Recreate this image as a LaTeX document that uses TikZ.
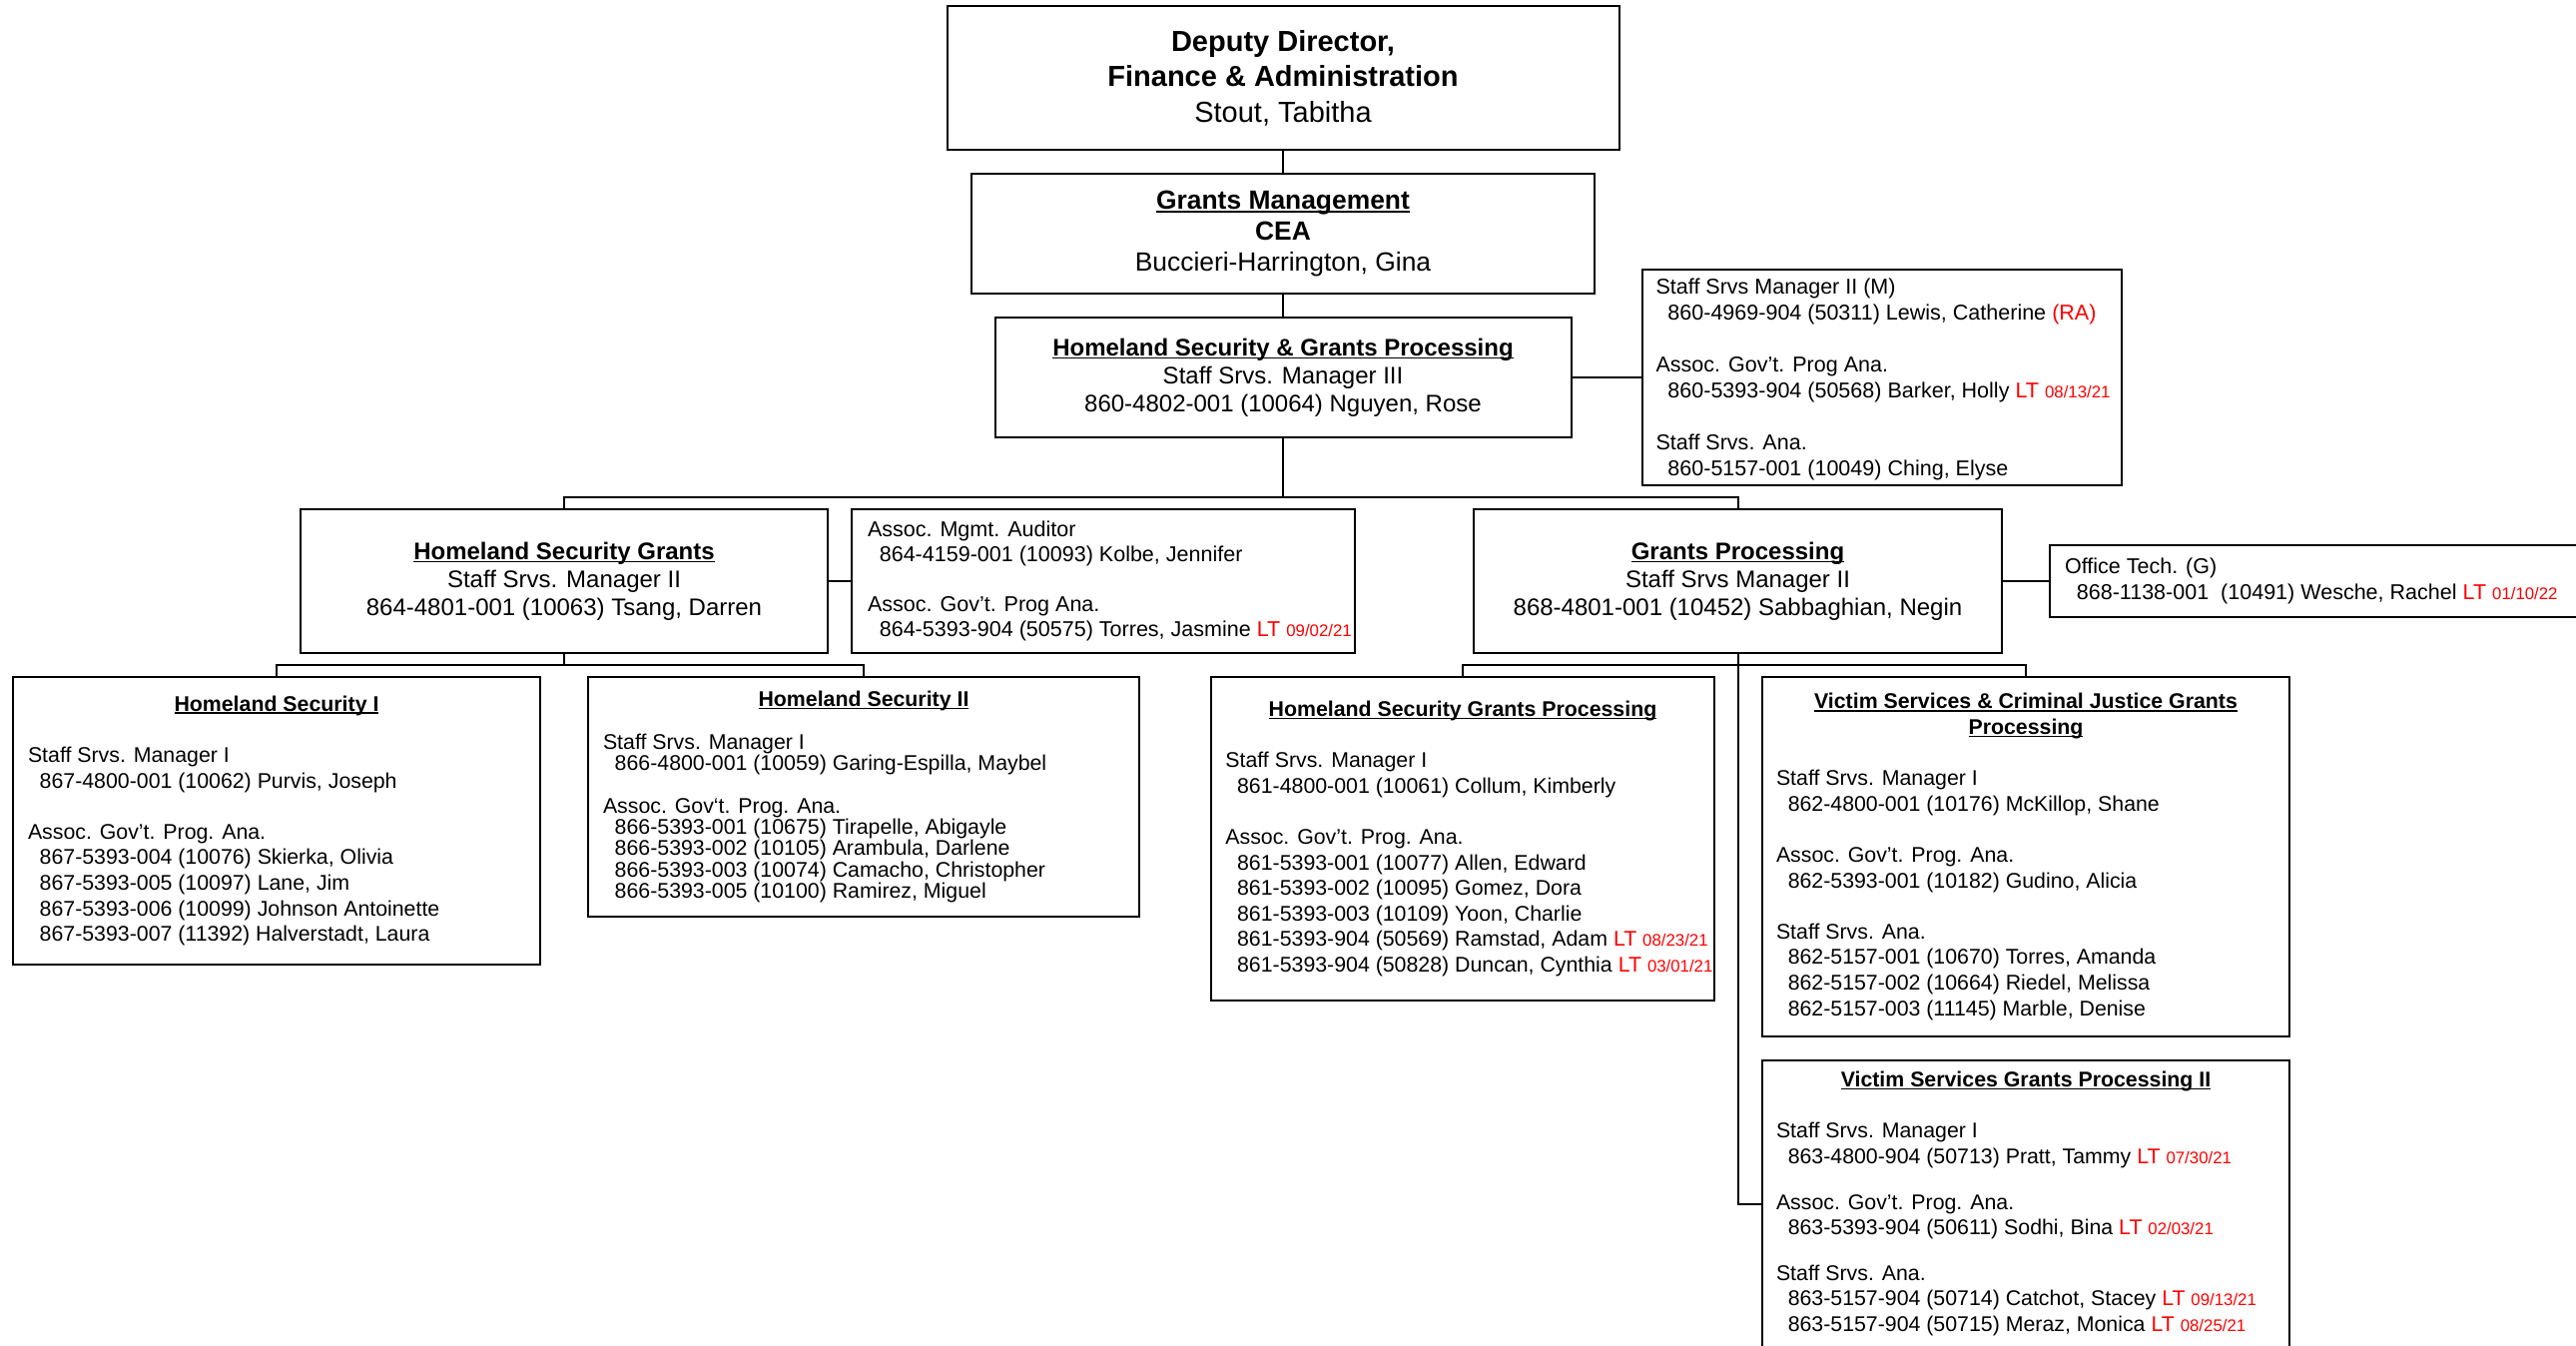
\documentclass[tikz,border=0pt]{standalone}
\usepackage{fontspec}
\setmainfont{Liberation Sans}
\newsavebox\ulbx
\newcommand\ulhd[1]{\sbox\ulbx{#1}\rlap{\rule[-0.13em]{\wd\ulbx}{0.075em}}\usebox\ulbx}
\newcommand\ltd[1]{\textcolor{red}{LT {\fontsize{4.2pt}{4.5pt}\selectfont #1}}}
\newcommand\rdx[1]{\textcolor{red}{#1}}
\newcommand\idt{\hspace*{0.55em}}
\newcommand\hdc[2]{\makebox[#1]{\ulhd{\textbf{#2}}}}
\tikzset{
  box/.style={draw=black, line width=0.5pt, inner sep=0pt, outer sep=0pt},
  ln/.style={line width=0.5pt},
  txt/.style={inner sep=0pt, outer sep=0pt, align=left, anchor=west},
  fs/.style={font=\fontsize{5.33pt}{6.4pt}\selectfont},
  fm/.style={font=\fontsize{6pt}{7pt}\selectfont},
}
\begin{document}
\begin{tikzpicture}[x=0.25pt,y=-0.25pt]
\useasboundingbox (0,0) rectangle (2580,1348);
\fill[white] (0,0) rectangle (2580,1348);

% top levels
\node[box, align=center, minimum width=168.25pt, minimum height=36pt,
      font=\fontsize{7.25pt}{8.9pt}\selectfont] (dd) at (1285,78)
  {\textbf{Deputy Director,}\\\textbf{Finance \& Administration}\\Stout, Tabitha};
\node[box, align=center, minimum width=156pt, minimum height=30pt,
      font=\fontsize{6.6pt}{7.75pt}\selectfont] (gm) at (1285,234)
  {\ulhd{\textbf{Grants Management}}\\\textbf{CEA}\\Buccieri-Harrington, Gina};
\node[box, align=center, minimum width=144.25pt, minimum height=30pt, fm] (hsgp) at (1285,378)
  {\ulhd{\textbf{Homeland Security \& Grants Processing}}\\Staff Srvs. Manager III\\860-4802-001 (10064) Nguyen, Rose};

% staff box
\node[box, minimum width=120pt, minimum height=54pt] (sa) at (1885,378) {};
\node[txt, font=\fontsize{5.38pt}{6.5pt}\selectfont] (sat) at ([xshift=3.4pt,yshift=-0.6pt]sa.west)
  {Staff Srvs Manager II (M)\\\idt 860-4969-904 (50311) Lewis, Catherine \rdx{(RA)}\\[6.5pt]
   Assoc. Gov’t. Prog Ana.\\\idt 860-5393-904 (50568) Barker, Holly \ltd{08/13/21}\\[6.5pt]
   Staff Srvs. Ana.\\\idt 860-5157-001 (10049) Ching, Elyse};

% level 3
\node[box, align=center, minimum width=132pt, minimum height=36pt, fm] (hsg) at (565,582)
  {\ulhd{\textbf{Homeland Security Grants}}\\Staff Srvs. Manager II\\864-4801-001 (10063) Tsang, Darren};
\node[box, minimum width=126pt, minimum height=36pt] (aud) at (1105,582) {};
\node[txt, font=\fontsize{5.38pt}{6.2pt}\selectfont] (audt) at ([xshift=4pt]aud.west)
  {Assoc. Mgmt. Auditor\\\idt 864-4159-001 (10093) Kolbe, Jennifer\\[6.2pt]
   Assoc. Gov’t. Prog Ana.\\\idt 864-5393-904 (50575) Torres, Jasmine \ltd{09/02/21}};
\node[box, align=center, minimum width=132.25pt, minimum height=36pt, fm] (gp) at (1740.5,582)
  {\ulhd{\textbf{Grants Processing}}\\Staff Srvs Manager II\\868-4801-001 (10452) Sabbaghian, Negin};
\node[box, minimum width=136.75pt, minimum height=18pt] (off) at (2326.5,582) {};
\node[txt, font=\fontsize{5.38pt}{6.5pt}\selectfont] (offt) at ([xshift=3.75pt]off.west)
  {Office Tech. (G)\\\idt 868-1138-001\ \ (10491) Wesche, Rachel \ltd{01/10/22}};

% level 4
\node[box, minimum width=132pt, minimum height=72pt] (hs1) at (277,822) {};
\node[txt, fs] (hs1t) at ([xshift=3.75pt]hs1.west)
  {\hdc{124.5pt}{Homeland Security I}\\[6.4pt]
   Staff Srvs. Manager I\\\idt 867-4800-001 (10062) Purvis, Joseph\\[6.4pt]
   Assoc. Gov’t. Prog. Ana.\\\idt 867-5393-004 (10076) Skierka, Olivia\\
   \idt 867-5393-005 (10097) Lane, Jim\\\idt 867-5393-006 (10099) Johnson Antoinette\\
   \idt 867-5393-007 (11392) Halverstadt, Laura};

\node[box, minimum width=138pt, minimum height=60pt] (hs2) at (865,798) {};
\node[txt, font=\fontsize{5.33pt}{5.33pt}\selectfont] (hs2t) at ([xshift=3.75pt]hs2.west)
  {\hdc{130.5pt}{Homeland Security II}\\[5.33pt]
   Staff Srvs. Manager I\\\idt 866-4800-001 (10059) Garing-Espilla, Maybel\\[5.33pt]
   Assoc. Gov‘t. Prog. Ana.\\\idt 866-5393-001 (10675) Tirapelle, Abigayle\\
   \idt 866-5393-002 (10105) Arambula, Darlene\\\idt 866-5393-003 (10074) Camacho, Christopher\\
   \idt 866-5393-005 (10100) Ramirez, Miguel};

\node[box, minimum width=126pt, minimum height=81pt] (hsgp2) at (1465,840) {};
\node[txt, fs] (hsgp2t) at ([xshift=3.6pt]hsgp2.west)
  {\hdc{118.8pt}{Homeland Security Grants Processing}\\[6.4pt]
   Staff Srvs. Manager I\\\idt 861-4800-001 (10061) Collum, Kimberly\\[6.4pt]
   Assoc. Gov’t. Prog. Ana.\\\idt 861-5393-001 (10077) Allen, Edward\\
   \idt 861-5393-002 (10095) Gomez, Dora\\\idt 861-5393-003 (10109) Yoon, Charlie\\
   \idt 861-5393-904 (50569) Ramstad, Adam \ltd{08/23/21}\\
   \idt 861-5393-904 (50828) Duncan, Cynthia \ltd{03/01/21}};

\node[box, minimum width=132pt, minimum height=90pt] (vscj) at (2029,858) {};
\node[txt, fs] (vscjt) at ([xshift=3.5pt]vscj.west)
  {\hdc{125pt}{Victim Services \& Criminal Justice Grants}\\
   \hdc{125pt}{Processing}\\[6.4pt]
   Staff Srvs. Manager I\\\idt 862-4800-001 (10176) McKillop, Shane\\[6.4pt]
   Assoc. Gov’t. Prog. Ana.\\\idt 862-5393-001 (10182) Gudino, Alicia\\[6.4pt]
   Staff Srvs. Ana.\\\idt 862-5157-001 (10670) Torres, Amanda\\
   \idt 862-5157-002 (10664) Riedel, Melissa\\\idt 862-5157-003 (11145) Marble, Denise};

\node[box, minimum width=132pt, minimum height=71.75pt] (vs2) at (2029,1205.5) {};
\node[txt, fs] (vs2t) at ([xshift=3.5pt]vs2.west)
  {\hdc{125pt}{Victim Services Grants Processing II}\\[6.4pt]
   Staff Srvs. Manager I\\\idt 863-4800-904 (50713) Pratt, Tammy \ltd{07/30/21}\\[5pt]
   Assoc. Gov’t. Prog. Ana.\\\idt 863-5393-904 (50611) Sodhi, Bina \ltd{02/03/21}\\[5pt]
   Staff Srvs. Ana.\\\idt 863-5157-904 (50714) Catchot, Stacey \ltd{09/13/21}\\
   \idt 863-5157-904 (50715) Meraz, Monica \ltd{08/25/21}};

% connectors
\coordinate (b1) at (1285,498);
\coordinate (b2) at (565,666);
\coordinate (b3) at (1740.5,666);
\draw[ln] (dd.south) -- (gm.north);
\draw[ln] (gm.south) -- (hsgp.north);
\draw[ln] (hsgp.east) -- (sa.west);
\draw[ln] (hsgp.south) -- (b1);
\draw[ln] (hsg.north) |- (b1) -| (gp.north);
\draw[ln] (hsg.east) -- (aud.west);
\draw[ln] (gp.east) -- (off.west);
\draw[ln] (hsg.south) -- (b2);
\draw[ln] (hs1.north) |- (b2) -| (hs2.north);
\draw[ln] (gp.south) |- (vs2.west);
\draw[ln] (hsgp2.north) |- (b3) -| (vscj.north);
\end{tikzpicture}
\end{document}
